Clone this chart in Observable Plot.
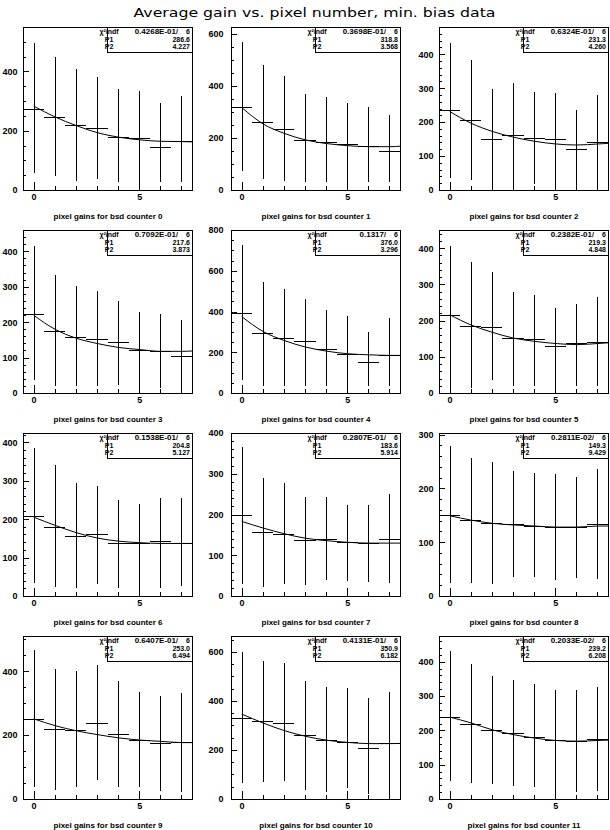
<!DOCTYPE html>
<html><head><meta charset="utf-8">
<script src="https://cdn.jsdelivr.net/npm/d3@7"></script>
<script src="https://cdn.jsdelivr.net/npm/@observablehq/plot@0.6"></script>
<style>
html,body{margin:0;padding:0;background:#fff;}
#chart{position:relative;width:610px;height:830px;overflow:hidden;background:#fff;}
#chart > svg{position:absolute;}
</style></head><body><div id="chart"></div>
<script>
const titleText = "Average gain vs. pixel number, min. bias data";
const pixels = [0, 1, 2, 3, 4, 5, 6, 7];
const counters = [0, 1, 2, 3, 4, 5, 6, 7, 8, 9, 10, 11];
const gains = [
  [275, 248, 221, 209, 178, 174, 145, 165],
  [320, 261, 235, 191, 183, 177, 168, 148],
  [235, 206, 149, 161, 154, 149, 120, 140],
  [223, 176, 159, 153, 143, 122, 118, 104],
  [395, 293, 272, 254, 215, 193, 151, 187],
  [215, 185, 183, 153, 148, 130, 137, 142],
  [209, 180, 155, 160, 137, 139, 142, 137],
  [198, 156, 153, 137, 141, 133, 129, 141],
  [150, 142, 136, 133, 131, 129, 128, 134],
  [250, 218, 215, 237, 203, 185, 175, 178],
  [330, 318, 312, 261, 242, 233, 208, 228],
  [239, 218, 200, 191, 181, 171, 169, 174]
];
const errHigh = [
  [497, 449, 408, 382, 340, 335, 292, 317],
  [568, 480, 436, 368, 357, 335, 319, 286],
  [433, 382, 296, 316, 289, 286, 237, 279],
  [414, 333, 302, 288, 260, 230, 223, 207],
  [724, 545, 509, 460, 407, 377, 301, 366],
  [406, 361, 335, 280, 271, 235, 247, 265],
  [386, 341, 294, 287, 249, 240, 255, 255],
  [365, 289, 277, 244, 242, 224, 223, 250],
  [278, 257, 250, 232, 229, 226, 222, 236],
  [465, 407, 399, 418, 368, 334, 321, 331],
  [600, 563, 554, 482, 455, 451, 414, 437],
  [431, 392, 358, 346, 334, 319, 319, 327]
];
const errLow = [
  [56, 48, 30, 37, 28, 28, 28, 28],
  [71, 43, 35, 32, 32, 32, 32, 32],
  [36, 29, 2, 6, 19, 12, 3, 1],
  [37, 19, 19, 19, 22, 17, 15, 12],
  [65, 33, 33, 33, 33, 33, 33, 33],
  [23, 14, 35, 18, 18, 18, 18, 18],
  [34, 24, 21, 30, 21, 21, 21, 26],
  [30, 23, 30, 27, 39, 37, 34, 33],
  [24, 25, 23, 36, 36, 30, 33, 31],
  [38, 27, 38, 59, 38, 38, 26, 22],
  [64, 71, 72, 38, 27, 43, 20, 18],
  [51, 48, 45, 37, 34, 24, 19, 22]
];
const fitX = [0, 1, 2, 3, 4, 5, 6, 7, 7.5];
const fitY = [
  [284, 248, 219, 195, 180, 171, 166, 165, 164],
  [317, 255, 219, 194, 180, 172, 168, 168, 170],
  [232, 198, 174, 157, 145, 137, 134, 137, 139],
  [220, 181, 156, 141, 130, 124, 119, 119, 120],
  [376, 304, 260, 228, 208, 195, 190, 187, 187],
  [217, 189, 169, 153, 144, 138, 135, 138, 140],
  [206, 185, 166, 152, 144, 140, 138, 138, 138],
  [184, 168, 154, 143, 137, 133, 131, 131, 131],
  [150, 142, 136, 133, 131, 129, 129, 131, 131],
  [252, 231, 215, 203, 193, 186, 182, 178, 178],
  [348, 312, 281, 258, 242, 233, 228, 228, 229],
  [240, 223, 203, 189, 179, 172, 170, 172, 173]
];
const yMax = [550, 625, 480, 460, 800, 450, 424, 400, 303, 510, 665, 475];
const yStep = [200, 200, 100, 100, 200, 100, 100, 100, 100, 200, 200, 100];
const yMinorStep = [50, 50, 20, 20, 50, 20, 20, 20, 20, 50, 50, 20];
const chi2 = ["0.4268E-01", "0.3698E-01", "0.6324E-01", "0.7092E-01", "0.1317", "0.2382E-01",
              "0.1538E-01", "0.2807E-01", "0.2811E-02", "0.6407E-01", "0.4131E-01", "0.2033E-02"];
const ndf = [6, 6, 6, 6, 6, 6, 6, 6, 6, 6, 6, 6];
const p1 = ["286.6", "318.8", "231.3", "217.6", "376.0", "219.3", "204.8", "183.6", "149.3", "253.0", "350.9", "239.2"];
const p2 = ["4.227", "3.568", "4.260", "3.873", "3.296", "4.848", "5.127", "5.914", "9.429", "6.494", "6.182", "6.208"];

// layout
const colLeft = [23, 231, 439];
const rowTop = [27, 230, 433, 636];
const frameW = 169, frameH = 163;
const labelGap = [6, 8, 6];
const mL = 34, mT = 2, mR = 4, mB = 34;
const FONT = "'Liberation Sans', Arial, sans-serif";

const chart = d3.select("#chart");

// title
const tsvg = chart.append("svg").attr("width", 610).attr("height", 24).style("left", "0px").style("top", "0px");
tsvg.append("text").attr("x", 314.5).attr("y", 16.5).attr("text-anchor", "middle")
  .attr("font-family", "'DejaVu Sans', sans-serif").attr("font-size", 13)
  .attr("textLength", 362).attr("lengthAdjust", "spacingAndGlyphs").text(titleText);

counters.forEach((c, i) => {
  const col = i % 3, row = Math.floor(i / 3);
  const data = pixels.map((p, j) => ({pixel: p, gain: gains[i][j], lo: errLow[i][j], hi: errHigh[i][j]}));
  const fit = fitX.map((x, j) => ({x, y: fitY[i][j]}));
  const majors = d3.range(0, yMax[i] + 1e-9, yStep[i]);
  const minors = d3.range(0, yMax[i] + 1e-9, yMinorStep[i]);
  const svg = Plot.plot({
    width: mL + frameW + mR,
    height: mT + frameH + mB,
    marginLeft: mL, marginRight: mR, marginTop: mT, marginBottom: mB,
    x: {domain: [-0.5, 7.5]},
    y: {domain: [0, yMax[i]]},
    style: {fontFamily: FONT, fontSize: "9px", fontWeight: "bold", color: "black", background: "transparent", overflow: "visible"},
    marks: [
      Plot.axisY(minors, {tickSize: -3, fill: "none", label: null, stroke: "black", shapeRendering: "crispEdges"}),
      Plot.axisY(majors, {tickSize: -6, tickPadding: 6 + labelGap[col], label: null, stroke: "black", fill: "black", shapeRendering: "crispEdges"}),
      Plot.axisX(pixels, {tickSize: -4, fill: "none", label: null, stroke: "black", shapeRendering: "crispEdges"}),
      Plot.axisX([0, 5], {tickSize: -8, tickPadding: 11, label: null, stroke: "black", fill: "black", shapeRendering: "crispEdges"}),
      Plot.ruleX(data, {x: "pixel", y1: "lo", y2: "hi", stroke: "black", shapeRendering: "crispEdges"}),
      Plot.ruleY(data, {y: "gain", x1: d => d.pixel - 0.5, x2: d => d.pixel + 0.5, stroke: "black", shapeRendering: "crispEdges"}),
      Plot.line(fit, {x: "x", y: "y", curve: "monotone-x", stroke: "black", strokeWidth: 1}),
      Plot.frame({stroke: "black", shapeRendering: "crispEdges"}),
      Plot.text([`pixel gains for bsd counter ${c}`], {frameAnchor: "bottom", dy: 25.5, lineAnchor: "middle", fontSize: 8, fontWeight: "bold", fill: "black"})
    ]
  });
  svg.style.left = (colLeft[col] - mL) + "px";
  svg.style.top = (rowTop[row] - mT) + "px";
  chart.node().appendChild(svg);

  // statistics box (fit results)
  const bw = 85, bh = 25;
  const bx = mL + frameW - bw, by = mT;
  const g = d3.select(svg).append("g").attr("font-family", FONT).attr("font-size", 7).attr("font-weight", "bold").attr("fill", "black");
  g.append("rect").attr("x", bx).attr("y", by).attr("width", bw).attr("height", bh)
    .attr("fill", "white").attr("stroke", "black").attr("shape-rendering", "crispEdges");
  const rowsY = [by + 7.2, by + 14.6, by + 22];
  g.append("text").attr("x", bx + 2).attr("y", rowsY[0]).text("χ²/ndf");
  g.append("text").attr("x", bx + 69).attr("y", rowsY[0]).attr("text-anchor", "end").attr("font-size", 8).text(chi2[i]);
  g.append("text").attr("x", bx + 70).attr("y", rowsY[0]).text("/");
  g.append("text").attr("x", bx + 83).attr("y", rowsY[0]).attr("text-anchor", "end").text(ndf[i]);
  g.append("text").attr("x", bx + 2).attr("y", rowsY[1]).text("P1");
  g.append("text").attr("x", bx + 83).attr("y", rowsY[1]).attr("text-anchor", "end").text(p1[i]);
  g.append("text").attr("x", bx + 2).attr("y", rowsY[2]).text("P2");
  g.append("text").attr("x", bx + 83).attr("y", rowsY[2]).attr("text-anchor", "end").text(p2[i]);
});
</script>
</body></html>
